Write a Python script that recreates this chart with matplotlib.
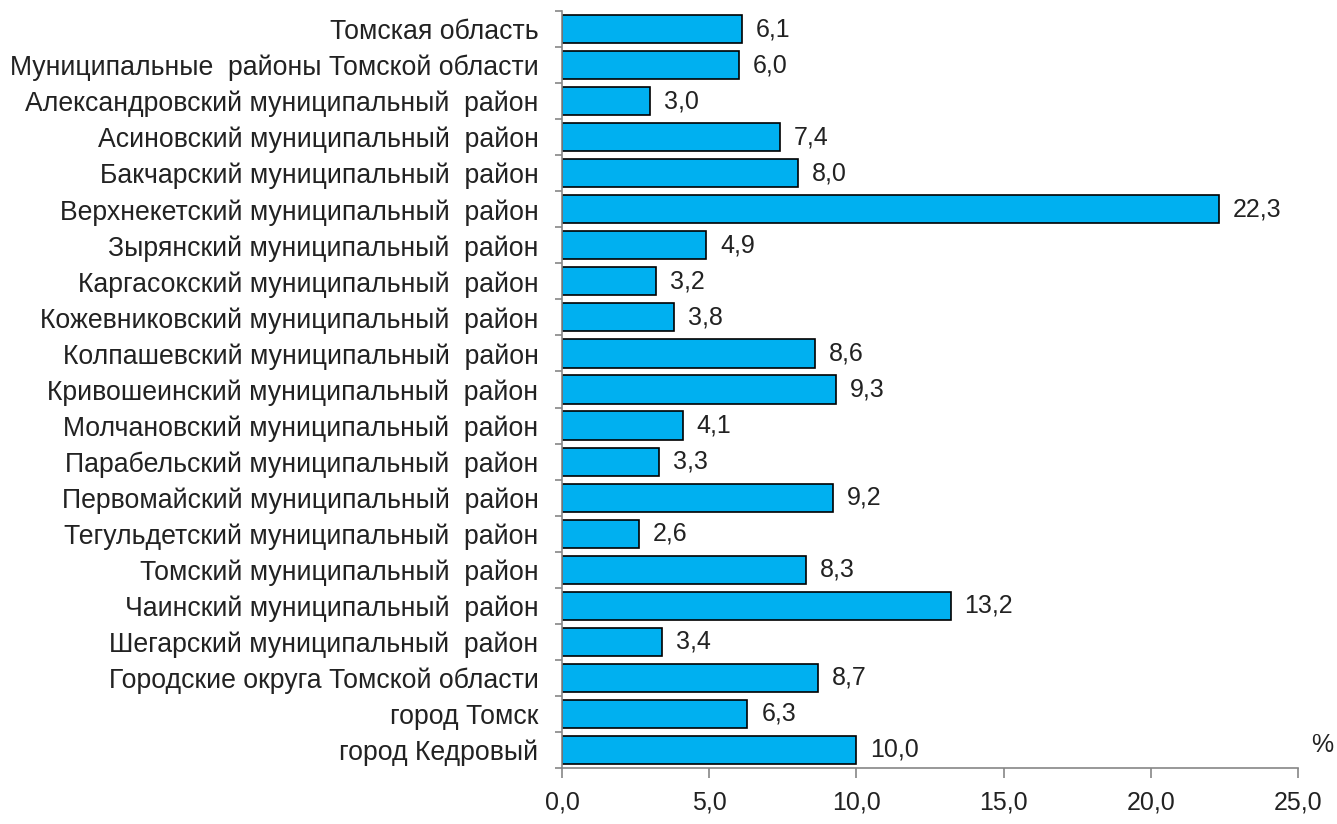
import matplotlib
matplotlib.use("Agg")
import matplotlib.pyplot as plt
import numpy as np

categories = [
    "Томская область",
    "Муниципальные  районы Томской области",
    "Александровский муниципальный  район",
    "Асиновский муниципальный  район",
    "Бакчарский муниципальный  район",
    "Верхнекетский муниципальный  район",
    "Зырянский муниципальный  район",
    "Каргасокский муниципальный  район",
    "Кожевниковский муниципальный  район",
    "Колпашевский муниципальный  район",
    "Кривошеинский муниципальный  район",
    "Молчановский муниципальный  район",
    "Парабельский муниципальный  район",
    "Первомайский муниципальный  район",
    "Тегульдетский муниципальный  район",
    "Томский муниципальный  район",
    "Чаинский муниципальный  район",
    "Шегарский муниципальный  район",
    "Городские округа Томской области",
    "город Томск",
    "город Кедровый",
]
values = [6.1, 6.0, 3.0, 7.4, 8.0, 22.3, 4.9, 3.2, 3.8, 8.6, 9.3, 4.1, 3.3, 9.2,
          2.6, 8.3, 13.2, 3.4, 8.7, 6.3, 10.0]
xticks = [0, 5, 10, 15, 20, 25]

plt.rcParams['font.family'] = ['Liberation Sans', 'DejaVu Sans']
text_color = '#222222'
axis_color = '#868686'
fs_cat = 19.2
fs_val = 18

fig = plt.figure(figsize=(13.37, 8.24), dpi=100)
ax = fig.add_axes([562/1337, 1-768/824, (1298-562)/1337, (768-11)/824])

y = np.arange(len(categories))
ax.barh(y, values, height=0.78, color='#00B0F0', edgecolor='black', linewidth=1.2)
for yi, v in zip(y, values):
    ax.annotate(f"{v:.1f}".replace('.', ','), (v, yi), xytext=(10, 0),
                textcoords='offset points', va='center', ha='left',
                fontsize=fs_val, color=text_color)

ax.set_ylim(len(categories)-0.5, -0.5)
ax.set_xlim(0, 25)
ax.set_yticks(y)
ax.set_yticklabels(categories, fontsize=fs_cat, color=text_color)
ax.set_yticks(np.arange(-0.5, len(categories)), minor=True)
ax.tick_params(axis='y', which='major', length=0, pad=17)
ax.tick_params(axis='y', which='minor', length=5, color=axis_color, width=1.2)
ax.set_xticks(xticks)
ax.set_xticklabels([f"{t:.1f}".replace('.', ',') for t in xticks], fontsize=fs_val, color=text_color)
ax.tick_params(axis='x', length=7, color=axis_color, width=1.2, pad=9)

for s in ['top', 'right']:
    ax.spines[s].set_visible(False)
for s in ['left', 'bottom']:
    ax.spines[s].set_color(axis_color)
    ax.spines[s].set_linewidth(1.2)

fig.text(1322/1337, 1-745/824, "%", fontsize=fs_val, color=text_color, ha='center', va='center')

fig.savefig("out.png", dpi=100)
